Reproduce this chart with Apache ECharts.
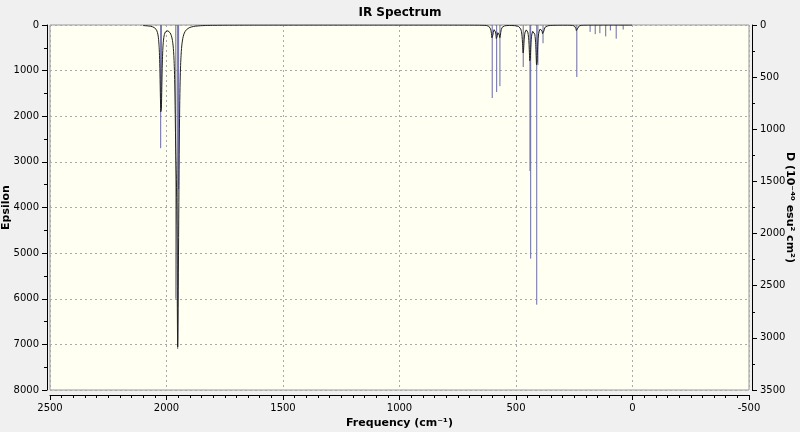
<!DOCTYPE html>
<html>
<head>
<meta charset="utf-8">
<script src="https://cdn.jsdelivr.net/npm/echarts@6/dist/echarts.min.js"></script>
<style>
  html, body { margin: 0; padding: 0; background: #f0f0f0; }
  #irSpectrum { width: 800px; height: 432px; }
</style>
</head>
<body>
<div id="irSpectrum"></div>
<script>
// stick positions (cm-1) and heights (epsilon scale)
const stickFreq = [2025, 2022, 1960, 1948, 1952, 602, 583, 569, 469, 440, 437, 411, 406, 384, 239, 182, 160, 140, 115, 95, 70, 40];
const stickEps = [2700, 1850, 6000, 3600, 7100, 1600, 1470, 1340, 920, 3200, 5120, 6130, 880, 400, 1140, 150, 200, 180, 250, 120, 300, 100];
// broadened peaks used for the black envelope
const peakFreq = [2025, 2022, 1960, 1952, 1948, 602, 583, 569, 469, 440, 411, 384, 239];
const peakEps = [1100, 1100, 1500, 6000, 1500, 300, 300, 250, 600, 800, 900, 200, 150];
const hwhm = 4;

const epsTicks = [0, 1000, 2000, 3000, 4000, 5000, 6000, 7000, 8000];
const dTicks = [0, 500, 1000, 1500, 2000, 2500, 3000, 3500];

const envelope = [];
for (let f = 2100; f >= 0; f -= 0.5) {
  let s = 0;
  peakFreq.forEach((p, i) => {
    const dx = (f - p) / hwhm;
    s += peakEps[i] / (1 + dx * dx);
  });
  envelope.push([f, s]);
}

const chart = echarts.init(document.getElementById('irSpectrum'));
const axisFont = { fontFamily: 'DejaVu Sans', fontSize: 10, color: '#000' };
const grid = { show: true, color: '#aaa', type: [2, 3], width: 1 };
const nameFont = { fontFamily: 'DejaVu Sans', fontSize: 11, fontWeight: 'bold', color: '#000' };

chart.setOption({
  backgroundColor: '#f0f0f0',
  animation: false,
  title: {
    text: 'IR Spectrum', left: 'center', top: 2,
    textStyle: { fontFamily: 'DejaVu Sans', fontSize: 12, fontWeight: 'bold', color: '#000' }
  },
  grid: { left: 50, right: 51, top: 25, bottom: 42, outerBoundsMode: 'none', containLabel: false,
    show: true, backgroundColor: '#fffff2', borderColor: '#999' },
  xAxis: {
    type: 'value', min: -500, max: 2500, interval: 500, inverse: true, offset: 5,
    name: 'Frequency (cm⁻¹)', nameLocation: 'middle', nameGap: 23, nameMoveOverlap: false,
    nameTextStyle: nameFont,
    axisLine: { onZero: false, lineStyle: { color: '#000' } },
    axisTick: { length: 5, lineStyle: { color: '#000' } },
    minorTick: { show: true, splitNumber: 10, length: 3, lineStyle: { color: '#000' } },
    axisLabel: Object.assign({ formatter: v => String(v) }, axisFont),
    splitLine: { lineStyle: grid }
  },
  yAxis: [{
    type: 'value', min: 0, max: 8000, interval: 1000, inverse: true, offset: 3,
    name: 'Epsilon', nameLocation: 'middle', nameGap: 35, nameMoveOverlap: false,
    nameTextStyle: nameFont,
    axisLine: { show: true, onZero: false, lineStyle: { color: '#000' } },
    axisTick: { length: 5, lineStyle: { color: '#000' } },
    minorTick: { show: true, splitNumber: 2, length: 3, lineStyle: { color: '#000' } },
    axisLabel: Object.assign({ formatter: v => epsTicks.includes(v) ? String(v) : '' }, axisFont),
    splitLine: { lineStyle: grid }
  }, {
    type: 'value', min: 0, max: 3500, interval: 500, inverse: true, position: 'right', offset: 3,
    name: 'D (10⁻⁴⁰ esu² cm²)', nameLocation: 'middle', nameGap: 32, nameRotate: -90, nameMoveOverlap: false,
    nameTextStyle: nameFont,
    axisLine: { show: true, onZero: false, lineStyle: { color: '#000' } },
    axisTick: { length: 5, lineStyle: { color: '#000' } },
    minorTick: { show: true, splitNumber: 2, length: 3, lineStyle: { color: '#000' } },
    axisLabel: Object.assign({ formatter: v => dTicks.includes(v) ? String(v) : '' }, axisFont),
    splitLine: { show: false }
  }],
  series: [{
    type: 'custom',
    data: stickFreq.map((f, i) => [f, stickEps[i]]),
    renderItem: (params, api) => {
      const p0 = api.coord([api.value(0), 0]);
      const p1 = api.coord([api.value(0), api.value(1)]);
      return { type: 'line', shape: { x1: p0[0], y1: p0[1], x2: p1[0], y2: p1[1] },
        style: { stroke: '#6a6aa8', lineWidth: 1 } };
    },
    z: 2
  }, {
    type: 'line', data: envelope, showSymbol: false,
    lineStyle: { color: '#222', width: 1 }, z: 3
  }]
});
</script>
</body>
</html>
